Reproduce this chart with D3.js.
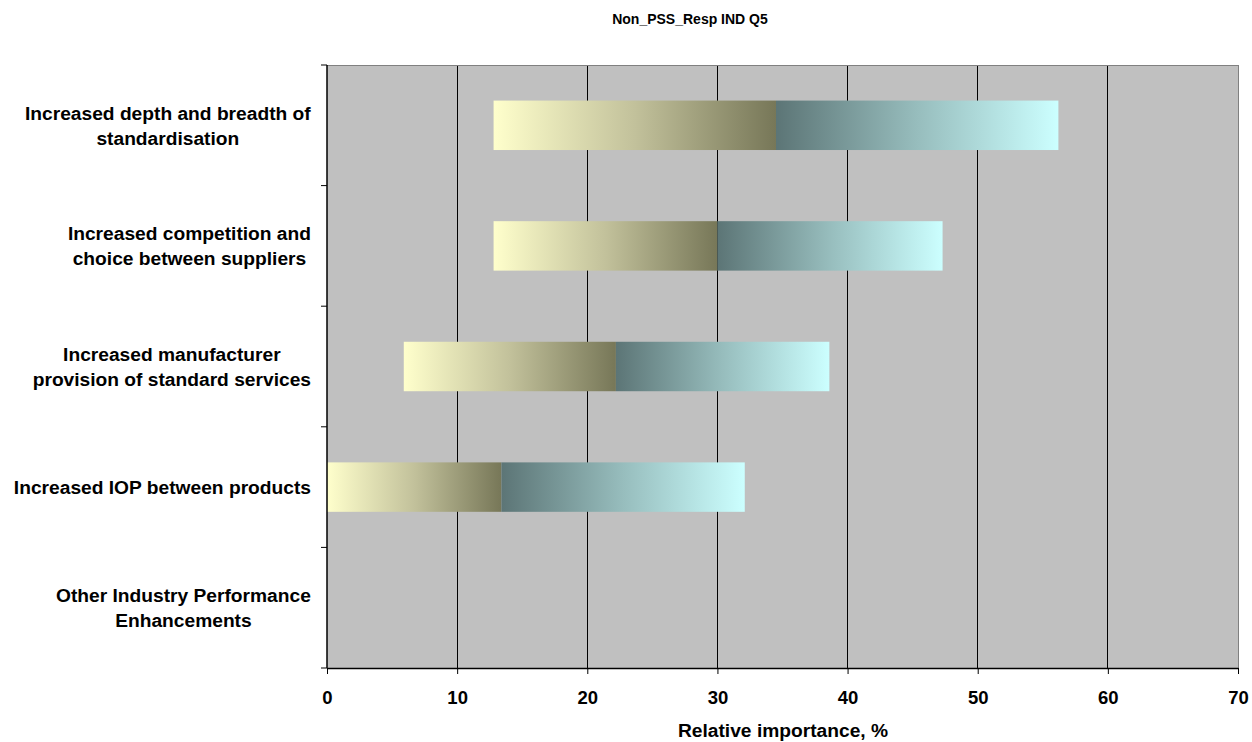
<!DOCTYPE html>
<html><head><meta charset="utf-8">
<script src="https://cdn.jsdelivr.net/npm/d3@7/dist/d3.min.js"></script>
<style>body{margin:0;background:#fff;} text{font-family:"Liberation Sans",Arial,sans-serif;font-weight:bold;fill:#000;}</style>
</head><body><svg id="c" width="1252" height="742"></svg>
<script>
const categories = [
  ["Increased depth and breadth of", "standardisation"],
  ["Increased competition and", "choice between suppliers"],
  ["Increased manufacturer", "provision of standard services"],
  ["Increased IOP between products"],
  ["Other Industry Performance", "Enhancements"]
];
const startValues = [12.8, 12.8, 5.9, 0, null];
const midValues   = [34.5, 30.0, 22.2, 13.4, null];
const endValues   = [56.2, 47.3, 38.6, 32.1, null];
const xTicks = [0, 10, 20, 30, 40, 50, 60, 70];
const title = "Non_PSS_Resp IND Q5";
const xTitle = "Relative importance, %";

const svg = d3.select("#c");
const L = 327, R = 1238, T = 65, B = 668;
const x = d3.scaleLinear().domain([0, 70]).range([L, R]);
const y = d3.scaleBand().domain(d3.range(categories.length)).range([T, B]).paddingInner(0.59).paddingOuter(0.295);

const defs = svg.append("defs");
const g1 = defs.append("linearGradient").attr("id", "g1").attr("x1", "0").attr("x2", "1").attr("y1", "0").attr("y2", "0");
g1.append("stop").attr("offset", "0").attr("stop-color", "#FFFFCC");
g1.append("stop").attr("offset", "0.5").attr("stop-color", "#C2C19B");
g1.append("stop").attr("offset", "1").attr("stop-color", "#777758");
const g2 = defs.append("linearGradient").attr("id", "g2").attr("x1", "0").attr("x2", "1").attr("y1", "0").attr("y2", "0");
g2.append("stop").attr("offset", "0").attr("stop-color", "#5C7576");
g2.append("stop").attr("offset", "0.5").attr("stop-color", "#97BDBD");
g2.append("stop").attr("offset", "1").attr("stop-color", "#CCFFFF");

svg.append("rect").attr("x", L).attr("y", T).attr("width", R - L).attr("height", B - T).attr("fill", "#C0C0C0");

svg.append("g").selectAll("line").data(xTicks.slice(1, -1)).join("line")
  .attr("x1", d => x(d)).attr("x2", d => x(d)).attr("y1", T).attr("y2", B)
  .attr("stroke", "#000").attr("stroke-width", 1).attr("shape-rendering", "crispEdges");

svg.append("path").attr("d", `M${L},${T}H${R}V${B}`).attr("fill", "none").attr("stroke", "#808080").attr("stroke-width", 1).attr("shape-rendering", "crispEdges");

const idx = d3.range(categories.length).filter(i => startValues[i] != null);
svg.append("g").selectAll("rect").data(idx).join("rect")
  .attr("x", i => x(startValues[i])).attr("width", i => x(midValues[i]) - x(startValues[i]))
  .attr("y", i => y(i)).attr("height", y.bandwidth()).attr("fill", "url(#g1)");
svg.append("g").selectAll("rect").data(idx).join("rect")
  .attr("x", i => x(midValues[i])).attr("width", i => x(endValues[i]) - x(midValues[i]))
  .attr("y", i => y(i)).attr("height", y.bandwidth()).attr("fill", "url(#g2)");

const xa = svg.append("g").attr("transform", `translate(0,${B})`)
  .call(d3.axisBottom(x).tickValues(xTicks).tickSize(6).tickSizeOuter(0));
xa.select(".domain").attr("stroke", "#000").attr("stroke-width", 1.5);
xa.selectAll(".tick line").attr("stroke", "#000");
xa.selectAll(".tick text").attr("y", 36).attr("dy", null)
  .style("font-size", "18.5px").style("font-family", "Liberation Sans, Arial, sans-serif").style("font-weight", "bold");

const bounds = d3.range(categories.length + 1).map(i => T + i * (B - T) / categories.length);
svg.append("line").attr("x1", L).attr("x2", L).attr("y1", T).attr("y2", B).attr("stroke", "#000").attr("stroke-width", 1.5);
svg.append("g").selectAll("line").data(bounds).join("line")
  .attr("x1", L - 6).attr("x2", L).attr("y1", d => d).attr("y2", d => d)
  .attr("stroke", "#000").attr("stroke-width", 1);

const lab = svg.append("g").selectAll("text").data(categories).join("text")
  .attr("text-anchor", "middle").style("font-size", "19.2px")
  .attr("transform", (d, i) => `translate(${L - 16},${y(i) + y.bandwidth() / 2})`);
lab.each(function(lines) {
  const t = d3.select(this);
  const n = lines.length;
  lines.forEach((s, k) => {
    t.append("tspan").attr("x", 0).attr("y", (k - (n - 1) / 2) * 25 + 7).text(s);
  });
});
lab.each(function() {
  const bb = this.getBBox();
  d3.select(this).selectAll("tspan").attr("x", -bb.width / 2);
});

svg.append("text").attr("x", 690).attr("y", 24).attr("text-anchor", "middle").style("font-size", "14px").text(title);
svg.append("text").attr("x", 783).attr("y", 737).attr("text-anchor", "middle").style("font-size", "19.2px").text(xTitle);
</script></body></html>
